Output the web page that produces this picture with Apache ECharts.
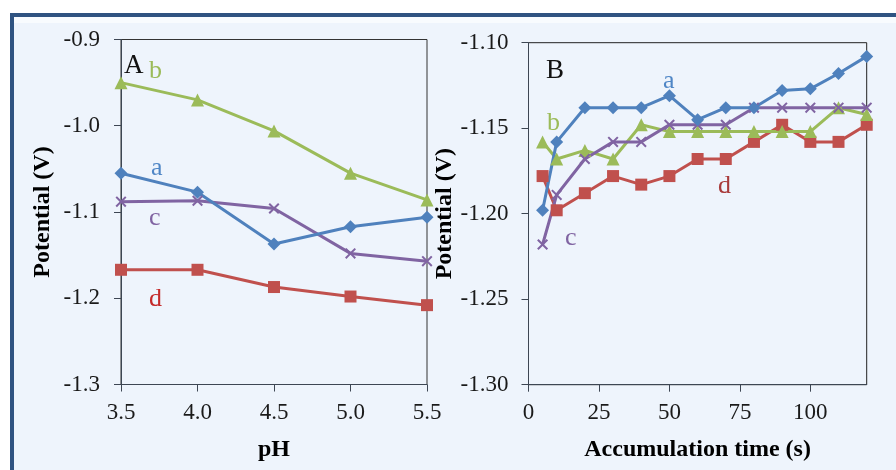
<!DOCTYPE html>
<html><head><meta charset="utf-8">
<script src="https://cdn.jsdelivr.net/npm/echarts@6/dist/echarts.min.js"></script>
<style>html,body{margin:0;padding:0;background:#fff}#c{width:896px;height:470px}</style>
</head><body><div id="c"></div>
<script>
// Panel A: potential vs pH
const phValues = [3.5, 4.0, 4.5, 5.0, 5.5];
const phA = [-1.055, -1.077, -1.137, -1.117, -1.106];
const phB = [-0.950, -0.970, -1.006, -1.055, -1.086];
const phC = [-1.088, -1.087, -1.096, -1.148, -1.157];
const phD = [-1.167, -1.167, -1.187, -1.198, -1.208];
// Panel B: potential vs accumulation time
const timeValues = [5, 10, 20, 30, 40, 50, 60, 70, 80, 90, 100, 110, 120];
const tA = [-1.198, -1.158, -1.138, -1.138, -1.138, -1.131, -1.145, -1.138, -1.138, -1.128, -1.127, -1.118, -1.108];
const tB = [-1.158, -1.168, -1.163, -1.168, -1.148, -1.152, -1.152, -1.152, -1.152, -1.152, -1.152, -1.138, -1.142];
const tC = [-1.218, -1.189, -1.168, -1.158, -1.158, -1.148, -1.148, -1.148, -1.138, -1.138, -1.138, -1.138, -1.138];
const tD = [-1.178, -1.198, -1.188, -1.178, -1.183, -1.178, -1.168, -1.168, -1.158, -1.148, -1.158, -1.158, -1.148];
const phTicks = [3.5, 4.0, 4.5, 5.0, 5.5];
const timeTicks = [0, 25, 50, 75, 100];

const BLUE = '#4F81BD', RED = '#C0504D', GREEN = '#9BBB59', PURPLE = '#8064A2';
const FONT = '"Liberation Serif", "Times New Roman", serif';
const X_SYM = 'path://M0,1.3L1.3,0L5,3.7L8.7,0L10,1.3L6.3,5L10,8.7L8.7,10L5,6.3L1.3,10L0,8.7L3.7,5Z';

function pairs(xs, ys) { return xs.map((x, i) => [x, ys[i]]); }
function ser(idx, xs, ys, color, symbol, size) {
  return {
    type: 'line', xAxisIndex: idx, yAxisIndex: idx, data: pairs(xs, ys),
    symbol: symbol, symbolSize: size, showAllSymbol: true,
    lineStyle: { color: color, width: 3 },
    itemStyle: { color: color },
    emphasis: { disabled: true }, animation: false, z: 3
  };
}
const axisLineStyle = { show: true, lineStyle: { color: '#3d4653', width: 1 } };
const tickStyle = { show: true, inside: false, length: 7, lineStyle: { color: '#3d4653' } };
const labelStyle = { color: '#1a1a1a', fontFamily: FONT, fontSize: 23 };
const nameStyle = { color: '#000', fontFamily: FONT, fontSize: 24, fontWeight: 'bold' };

function txt(x, y, s, color, size) {
  return { type: 'text', x: x, y: y, z: 10,
    style: { text: s, fill: color, font: (size || 26) + 'px ' + FONT, verticalAlign: 'middle', align: 'left' } };
}

const chart = echarts.init(document.getElementById('c'), null, { renderer: 'canvas' });
chart.setOption({
  backgroundColor: '#ffffff',
  animation: false,
  graphic: [
    { type: 'rect', z: -100, silent: true, shape: { x: 12, y: 15, width: 920, height: 500 },
      style: { fill: '#eef4fc', stroke: '#2f5381', lineWidth: 4 } },
    { type: 'rect', z: -99, silent: true, shape: { x: 14, y: 17, width: 900, height: 6 },
      style: { fill: '#f8fbfe' } },
    txt(124, 66, 'A', '#111', 27),
    txt(149, 71, 'b', GREEN),
    txt(151, 168, 'a', '#4f86c6'),
    txt(149, 218, 'c', PURPLE),
    txt(149, 299, 'd', '#c42a2a'),
    txt(546, 71, 'B', '#111', 27),
    txt(663, 81, 'a', '#4f86c6'),
    txt(547, 123, 'b', GREEN),
    txt(718, 186, 'd', '#a83a3a'),
    txt(565, 238, 'c', PURPLE)
  ],
  grid: [
    { left: 121, top: 39.5, width: 306, height: 345, show: true, borderColor: '#333', borderWidth: 1, backgroundColor: 'transparent' },
    { left: 528.5, top: 42.7, width: 338.2, height: 342, show: true, borderColor: '#222', borderWidth: 1, backgroundColor: 'transparent' }
  ],
  xAxis: [
    { gridIndex: 0, type: 'value', min: 3.5, max: 5.5, interval: 0.5,
      axisLine: axisLineStyle, axisTick: tickStyle, splitLine: { show: false },
      axisLabel: Object.assign({ margin: 17, formatter: v => v.toFixed(1) }, labelStyle),
      name: 'pH', nameLocation: 'middle', nameGap: 53, nameTextStyle: nameStyle },
    { gridIndex: 1, type: 'value', min: 0, max: 120, interval: 25,
      axisLine: axisLineStyle,
      axisTick: Object.assign({ customValues: timeTicks }, tickStyle), splitLine: { show: false },
      axisLabel: Object.assign({ margin: 17, customValues: timeTicks, formatter: v => String(v) }, labelStyle),
      name: 'Accumulation time (s)', nameLocation: 'middle', nameGap: 53, nameTextStyle: nameStyle }
  ],
  yAxis: [
    { gridIndex: 0, type: 'value', min: -1.3, max: -0.9, interval: 0.1,
      axisLine: axisLineStyle, axisTick: tickStyle, splitLine: { show: false },
      axisLabel: Object.assign({ margin: 21, formatter: v => v.toFixed(1) }, labelStyle),
      name: 'Potential (V)', nameLocation: 'middle', nameGap: 66, nameTextStyle: nameStyle },
    { gridIndex: 1, type: 'value', min: -1.3, max: -1.1, interval: 0.05,
      axisLine: axisLineStyle, axisTick: tickStyle, splitLine: { show: false },
      axisLabel: Object.assign({ margin: 20, formatter: v => v.toFixed(2) }, labelStyle),
      name: 'Potential (V)', nameLocation: 'middle', nameGap: 65, nameTextStyle: nameStyle }
  ],
  series: [
    ser(0, phValues, phD, RED, 'rect', 12),
    ser(0, phValues, phC, PURPLE, X_SYM, 11),
    ser(0, phValues, phA, BLUE, 'diamond', 13),
    ser(0, phValues, phB, GREEN, 'triangle', 13),
    ser(1, timeValues, tD, RED, 'rect', 12),
    ser(1, timeValues, tB, GREEN, 'triangle', 13),
    ser(1, timeValues, tC, PURPLE, X_SYM, 11),
    ser(1, timeValues, tA, BLUE, 'diamond', 13)
  ]
});
</script></body></html>
